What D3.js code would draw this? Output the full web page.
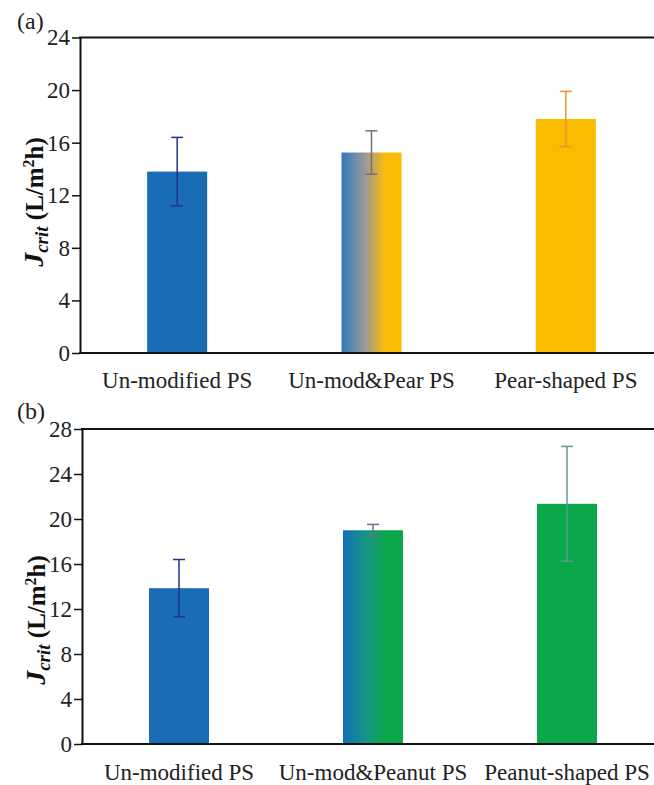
<!DOCTYPE html>
<html>
<head>
<meta charset="utf-8">
<script src="https://cdn.jsdelivr.net/npm/d3@7"></script>
<style>
  html, body { margin: 0; padding: 0; background: #fff; }
  svg { display: block; }
  svg text { font-family: "Liberation Serif", "Times New Roman", "DejaVu Serif", serif; }
</style>
</head>
<body>
<svg id="chart" width="654" height="785"></svg>
<script>
// ---- data ----
const categoriesA = ["Un-modified PS", "Un-mod&Pear PS", "Pear-shaped PS"];
const valuesA = [13.8, 15.25, 17.8];
const errorsA = [2.6, 1.65, 2.1];
const ticksA = [0, 4, 8, 12, 16, 20, 24];

const categoriesB = ["Un-modified PS", "Un-mod&Peanut PS", "Peanut-shaped PS"];
const valuesB = [13.85, 19.0, 21.35];
const errorsB = [2.55, 0.52, 5.1];
const ticksB = [0, 4, 8, 12, 16, 20, 24, 28];

const FONT = "'Liberation Serif', 'Times New Roman', 'DejaVu Serif', serif";
const svg = d3.select("#chart");
const defs = svg.append("defs");

function gradient(id, stops) {
  const g = defs.append("linearGradient").attr("id", id)
    .attr("x1", "0%").attr("x2", "100%").attr("y1", "0%").attr("y2", "0%");
  stops.forEach(s => g.append("stop").attr("offset", s[0]).attr("stop-color", s[1]));
}
gradient("gradA", [["0%", "#2f78bd"], ["40%", "#9c9a98"], ["72%", "#f7bc0a"], ["100%", "#f9bc00"]]);
gradient("gradB", [["0%", "#1270b5"], ["40%", "#169683"], ["72%", "#0ba84b"], ["100%", "#0ba84b"]]);

function panel(cfg) {
  const g = svg.append("g").attr("font-family", FONT);
  const x = d3.scalePoint().domain(cfg.categories).range([cfg.left, cfg.right]).padding(0.5);
  const y = d3.scaleLinear().domain([0, cfg.max]).range([cfg.bottom, cfg.top]);
  const barW = 60;

  // bars
  g.selectAll("rect.bar").data(cfg.values).enter().append("rect")
    .attr("x", (d, i) => x(cfg.categories[i]) - barW / 2)
    .attr("width", barW)
    .attr("y", d => y(d))
    .attr("height", d => y(0) - y(d))
    .attr("fill", (d, i) => cfg.fills[i]);

  // error bars
  const eb = g.selectAll("g.err").data(cfg.values).enter().append("g")
    .attr("stroke", (d, i) => cfg.errColors[i]).attr("stroke-width", 1.5).attr("fill", "none");
  eb.append("line")
    .attr("x1", (d, i) => x(cfg.categories[i])).attr("x2", (d, i) => x(cfg.categories[i]))
    .attr("y1", (d, i) => y(d + cfg.errors[i])).attr("y2", (d, i) => y(d - cfg.errors[i]));
  [1, -1].forEach(sgn => {
    eb.append("line")
      .attr("x1", (d, i) => x(cfg.categories[i]) - 6).attr("x2", (d, i) => x(cfg.categories[i]) + 6)
      .attr("y1", (d, i) => y(d + sgn * cfg.errors[i])).attr("y2", (d, i) => y(d + sgn * cfg.errors[i]));
  });

  // left axis
  const ax = g.append("g").attr("transform", `translate(${cfg.left},0)`)
    .call(d3.axisLeft(y).tickValues(cfg.ticks).tickSize(8).tickPadding(2).tickSizeOuter(0));
  ax.attr("font-family", FONT).attr("font-size", 23);
  ax.select(".domain").attr("stroke", "#111").attr("stroke-width", 2);
  ax.selectAll(".tick line").attr("stroke", "#111").attr("stroke-width", 1.5);
  ax.selectAll(".tick text").attr("font-size", 23).attr("fill", "#222")
    .style("font-family", FONT);

  // bottom & top lines
  g.append("line").attr("x1", cfg.left - 1).attr("x2", 654).attr("y1", y(0)).attr("y2", y(0))
    .attr("stroke", "#111").attr("stroke-width", 2);
  g.append("line").attr("x1", cfg.left - 1).attr("x2", 654).attr("y1", y(cfg.max)).attr("y2", y(cfg.max))
    .attr("stroke", "#111").attr("stroke-width", 2);

  // category labels
  g.selectAll("text.cat").data(cfg.categories).enter().append("text")
    .attr("x", d => x(d)).attr("y", cfg.labelY)
    .attr("text-anchor", "middle").attr("font-size", 23).attr("fill", "#222")
    .style("font-family", FONT)
    .text(d => d);

  // panel letter
  g.append("text").attr("x", 17).attr("y", cfg.letterY).attr("font-size", 24).attr("fill", "#222")
    .style("font-family", FONT)
    .text(cfg.letter);

  // y title
  const t = g.append("text")
    .attr("transform", `translate(${cfg.titleX},${cfg.titleY}) rotate(-90)`)
    .style("font-family", FONT)
    .attr("text-anchor", "middle").attr("font-weight", "bold").attr("font-size", 25).attr("fill", "#111");
  t.append("tspan").attr("font-style", "italic").attr("font-size", 28).text("J");
  t.append("tspan").attr("font-style", "italic").attr("font-size", 19).attr("dy", 5).text("crit");
  t.append("tspan").attr("dy", -5).text(" (L/m");
  t.append("tspan").attr("font-size", 16).attr("dy", -9).text("2");
  t.append("tspan").attr("dy", 9).text("h)");
}

panel({
  categories: categoriesA, values: valuesA, errors: errorsA, ticks: ticksA, max: 24,
  left: 80, right: 663, top: 37.5, bottom: 353,
  fills: ["#1a6db5", "url(#gradA)", "#f9bc00"],
  errColors: ["#25308f", "#776d80", "#e8962c"],
  labelY: 388, letter: "(a)", letterY: 29, titleX: 43, titleY: 202
});

panel({
  categories: categoriesB, values: valuesB, errors: errorsB, ticks: ticksB, max: 28,
  left: 82, right: 664, top: 429, bottom: 744,
  fills: ["#1a6db5", "url(#gradB)", "#0ba84b"],
  errColors: ["#25308f", "#687388", "#5e9a92"],
  labelY: 780, letter: "(b)", letterY: 419, titleX: 45, titleY: 620
});
</script>
</body>
</html>
